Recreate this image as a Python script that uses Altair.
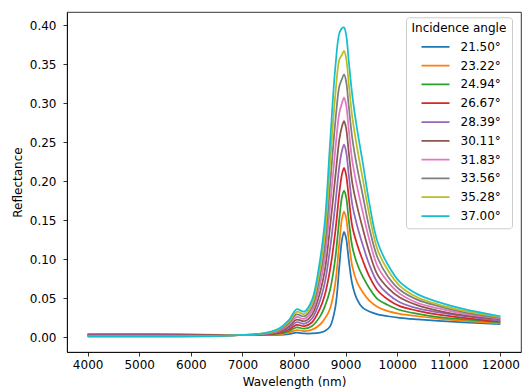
import altair as alt
import pandas as pd

WAVELENGTHS = [4000, 5500, 6500, 7000, 7400, 7700, 7900, 8050, 8200, 8350,
               8500, 8600, 8700, 8800, 8880, 8930, 8970, 9010, 9060, 9130,
               9220, 9330, 9460, 9620, 9820, 10050, 10400, 10800, 11300, 12000]

ANGLES = ["21.50°", "23.22°", "24.94°", "26.67°", "28.39°",
          "30.11°", "31.83°", "33.56°", "35.28°", "37.00°"]

COLORS = ["#1f77b4", "#ff7f0e", "#2ca02c", "#d62728", "#9467bd",
          "#8c564b", "#e377c2", "#7f7f7f", "#bcbd22", "#17becf"]

R_2150 = [.0040, .0040, .0030, .0030, .0030, .0030, .0040, .0060, .0050, .0050,
          .0060, .0080, .0140, .0380, .0920, .1250, .1350, .1270, .1000, .0680,
          .0490, .0380, .0330, .0295, .0270, .0250, .0230, .0210, .0190, .0170]
R_2322 = [.0037, .0037, .0028, .0030, .0032, .0039, .0060, .0093, .0081, .0098,
          .0161, .0240, .0370, .0690, .1220, .1520, .1610, .1530, .1250, .0910,
          .0710, .0580, .0470, .0390, .0335, .0300, .0270, .0240, .0210, .0180]
R_2494 = [.0033, .0033, .0027, .0030, .0034, .0048, .0080, .0127, .0112, .0146,
          .0262, .0400, .0610, .1010, .1530, .1800, .1880, .1800, .1510, .1160,
          .0950, .0780, .0630, .0490, .0415, .0350, .0300, .0260, .0230, .0190]
R_2667 = [.0030, .0030, .0025, .0030, .0037, .0057, .0100, .0160, .0143, .0193,
          .0363, .0550, .0870, .1350, .1860, .2090, .2170, .2080, .1800, .1420,
          .1200, .0990, .0780, .0600, .0485, .0400, .0340, .0290, .0250, .0200]
R_2839 = [.0027, .0027, .0023, .0030, .0039, .0066, .0120, .0193, .0174, .0241,
          .0464, .0710, .1140, .1700, .2200, .2390, .2470, .2380, .2090, .1700,
          .1440, .1190, .0930, .0700, .0555, .0450, .0370, .0320, .0270, .0210]
R_3011 = [.0023, .0023, .0022, .0030, .0041, .0074, .0140, .0227, .0206, .0289,
          .0566, .0870, .1420, .2050, .2540, .2700, .2770, .2680, .2380, .1980,
          .1690, .1400, .1090, .0800, .0635, .0510, .0410, .0340, .0280, .0230]
R_3183 = [.0020, .0020, .0020, .0030, .0043, .0083, .0160, .0260, .0237, .0337,
          .0667, .1030, .1690, .2400, .2880, .3000, .3070, .2980, .2670, .2260,
          .1940, .1610, .1250, .0910, .0710, .0560, .0440, .0370, .0300, .0240]
R_3356 = [.0017, .0017, .0018, .0030, .0046, .0092, .0180, .0293, .0268, .0384,
          .0768, .1180, .1960, .2750, .3220, .3310, .3370, .3280, .2970, .2550,
          .2190, .1830, .1400, .1020, .0780, .0610, .0480, .0400, .0320, .0250]
R_3528 = [.0013, .0013, .0017, .0030, .0048, .0101, .0200, .0327, .0299, .0432,
          .0869, .1340, .2230, .3100, .3560, .3620, .3670, .3580, .3260, .2820,
          .2440, .2040, .1570, .1120, .0860, .0660, .0510, .0420, .0340, .0260]
R_3700 = [.0010, .0010, .0015, .0030, .0050, .0110, .0220, .0360, .0330, .0480,
          .0970, .1500, .2500, .3450, .3900, .3960, .3970, .3880, .3550, .3100,
          .2680, .2250, .1720, .1220, .0930, .0710, .0550, .0450, .0360, .0270]

SERIES = [R_2150, R_2322, R_2494, R_2667, R_2839,
          R_3011, R_3183, R_3356, R_3528, R_3700]

X_TICKS = [4000, 5000, 6000, 7000, 8000, 9000, 10000, 11000, 12000]
Y_TICKS = [0.0, 0.05, 0.10, 0.15, 0.20, 0.25, 0.30, 0.35, 0.40]

rows = []
for angle, vals in zip(ANGLES, SERIES):
    for w, r in zip(WAVELENGTHS, vals):
        rows.append({"wl": w, "R": r, "angle": angle})
df = pd.DataFrame(rows)

FONT = "DejaVu Sans"
FS = 12

chart = alt.Chart(df).mark_line(
    interpolate="catmull-rom", strokeWidth=1.75, clip=True
).encode(
    x=alt.X("wl:Q",
            scale=alt.Scale(domain=[3600, 12400], nice=False, zero=False),
            axis=alt.Axis(title="Wavelength (nm)", values=X_TICKS, format="d",
                          labelPadding=3, titlePadding=6)),
    y=alt.Y("R:Q",
            scale=alt.Scale(domain=[-0.0188, 0.4168], nice=False, zero=False),
            axis=alt.Axis(title="Reflectance", values=Y_TICKS, format=".2f",
                          labelPadding=7, titlePadding=5)),
    color=alt.Color("angle:N",
                    scale=alt.Scale(domain=ANGLES, range=COLORS),
                    legend=alt.Legend(title="Incidence angle", orient="none",
                                      legendX=339, legendY=5.3)),
).properties(
    width=454, height=340,
    autosize=alt.AutoSizeParams(type="none"),
    padding={"left": 67, "top": 12, "right": 1, "bottom": 37},
).configure_view(
    stroke="black", strokeWidth=0.8
).configure_axis(
    grid=False, domainColor="black", domainWidth=0.8,
    tickColor="black", tickWidth=0.8, tickSize=4,
    labelFont=FONT, labelFontSize=FS, labelColor="black",
    titleFont=FONT, titleFontSize=FS, titleFontWeight="normal", titleColor="black",
).configure_legend(
    titleFont=FONT, titleFontSize=FS, titleFontWeight="normal", titleColor="black",
    labelFont=FONT, labelFontSize=FS, labelColor="black",
    symbolType="stroke", symbolSize=784, symbolStrokeWidth=1.75,
    clipHeight=12, rowPadding=6.8, symbolOffset=9, labelOffset=10,
    titlePadding=6, padding=5.5, cornerRadius=3,
    strokeColor="#cccccc", fillColor="white",
)

chart.save("out.html", embed_options={"renderer": "svg", "actions": False})
